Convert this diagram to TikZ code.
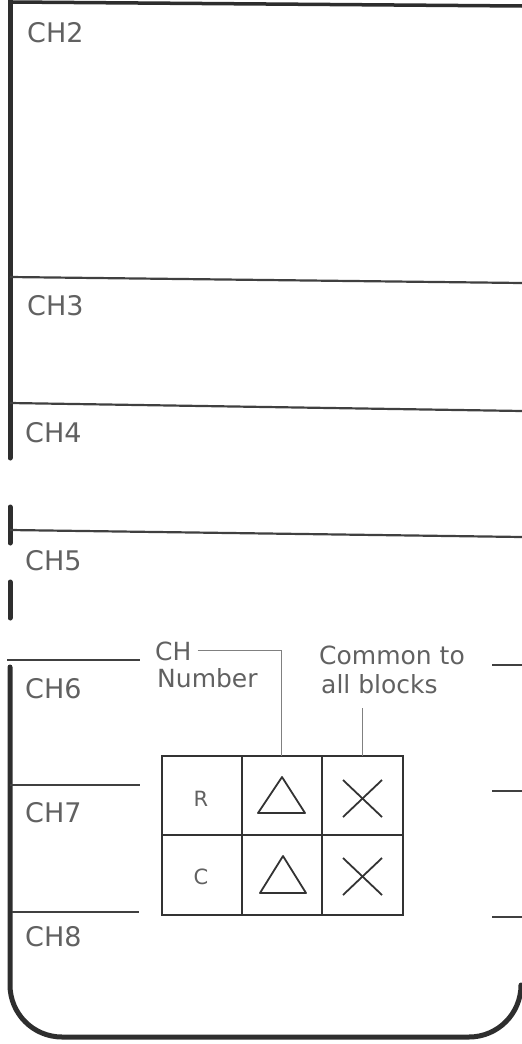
\documentclass[tikz,border=0pt]{standalone}
\usepackage{fontspec}
\setmainfont{DejaVu Sans}
\begin{document}
\begin{tikzpicture}[x=1pt,y=-1pt,
  frame/.style={line width=5pt, draw=black!82, line cap=round},
  divider/.style={line width=2.2pt, draw=black!75},
  cellline/.style={line width=2pt, draw=black!80},
  leader/.style={line width=0.9pt, draw=black!50},
  symb/.style={line width=1.8pt, draw=black!80, line join=round},
  chlabel/.style={anchor=base west, inner sep=0pt, text=black!62, font=\fontsize{27}{30}\selectfont},
  note/.style={anchor=base west, inner sep=0pt, text=black!62, font=\fontsize{25}{28}\selectfont},
  rc/.style={inner sep=0pt, text=black!62, font=\fontsize{21}{24}\selectfont}]
\useasboundingbox (0,0) rectangle (522,1044);
% outer frame
\draw[frame, line width=3.5pt] (10,2) -- (522,6);
\draw[frame] (10,0) -- (10,458);
\draw[frame] (10,507) -- (10,543);
\draw[frame] (10,582) -- (10,618);
\draw[frame, rounded corners=52pt] (10,667) -- (10,1037) -- (521,1037) -- (521,985);
% full-width dividers
\draw[divider] (10,277) -- (522,283);
\draw[divider] (10,403) -- (522,411);
\draw[divider] (10,530) -- (522,537);
% partial dividers
\draw[divider] (7,660) -- (140,660);
\draw[divider] (492,665) -- (522,665);
\draw[divider] (10,785) -- (140,785);
\draw[divider] (492,791) -- (522,791);
\draw[divider] (12,912) -- (139,912);
\draw[divider] (492,917) -- (522,917);
% channel labels
\node[chlabel] (ch2) at (27,42) {CH2};
\node[chlabel] (ch3) at (27,315) {CH3};
\node[chlabel] (ch4) at (25,442) {CH4};
\node[chlabel] (ch5) at (25,570) {CH5};
\node[chlabel] (ch6) at (25,698) {CH6};
\node[chlabel] (ch7) at (25,822) {CH7};
\node[chlabel] (ch8) at (25,946) {CH8};
% table
\draw[cellline] (162,756) rectangle (403,915);
\draw[cellline] (242,756) -- (242,915);
\draw[cellline] (322,756) -- (322,915);
\draw[cellline] (162,835) -- (403,835);
\coordinate (chtop) at (281,756);
\coordinate (comtop) at (362,756);
\node[rc] (r) at (201,799) {R};
\node[rc] (c) at (201,877) {C};
\draw[symb] (258,813) -- (282,777) -- (305,813) -- cycle;
\draw[symb] (260,893) -- (283,856) -- (306,893) -- cycle;
\draw[symb] (343,780) -- (382,817);
\draw[symb] (343,817) -- (382,780);
\draw[symb] (343,858) -- (382,895);
\draw[symb] (343,895) -- (382,858);
% annotations
\node[note] (chn) at (155,660) {CH};
\node[note] (num) at (157,687) {Number};
\node[note] (com) at (319,664) {Common to};
\node[note] (allb) at (321,693) {all blocks};
\coordinate (comstart) at (362,708);
\draw[leader] ([xshift=6pt]chn.east) -- (chn.east -| chtop) -- (chtop);
\draw[leader] (comstart) -- (comtop);
\end{tikzpicture}
\end{document}
